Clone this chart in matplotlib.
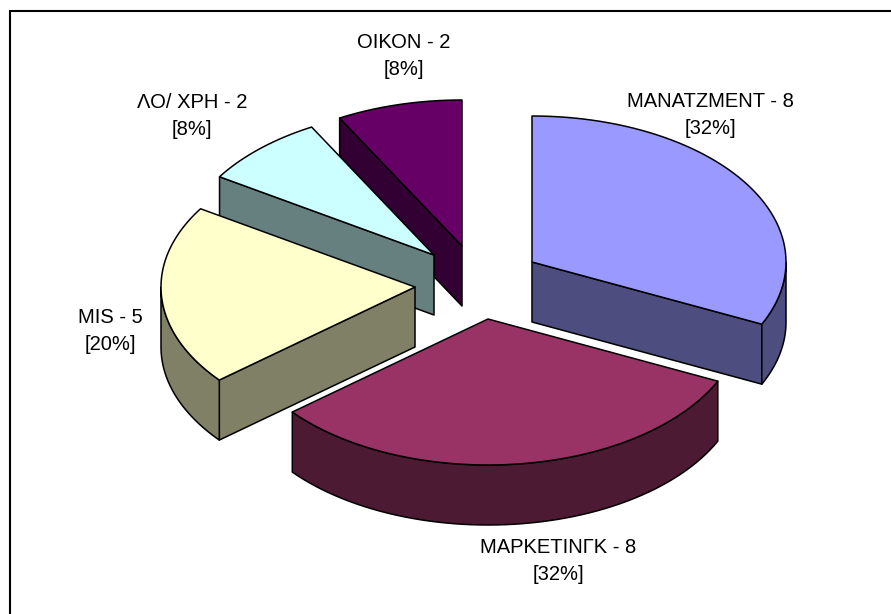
import numpy as np
import matplotlib
matplotlib.use("Agg")
import matplotlib.pyplot as plt
from matplotlib.patches import Polygon

plt.rcParams['font.family'] = ['Liberation Sans', 'DejaVu Sans']

names = ["ΜΑΝΑΤΖΜΕΝΤ", "ΜΑΡΚΕΤΙΝΓΚ", "MIS", "ΛΟ/ ΧΡΗ", "ΟΙΚΟΝ"]
values = [8, 8, 5, 2, 2]
top_colors = ["#9999FF", "#993366", "#FFFFCC", "#CCFFFF", "#660066"]
side_colors = ["#4D4D80", "#4D1A33", "#808066", "#668080", "#330033"]

# where each exploded slice has its tip, in pixels
tips = [(532, 262), (488, 319), (415, 287), (434, 255), (462, 246)]
label_pos = [(710, 115), (558, 561), (110, 331), (192, 116), (404, 56)]
draw_order = [4, 3, 0, 2, 1]

RX = 254
RY = 146
DEPTH = 60
LW = 1.1


def arc(cx, cy, a, b, n=60):
    t = np.radians(np.linspace(a, b, n))
    return np.column_stack((cx + RX*np.sin(t), cy - RY*np.cos(t)))


def wall(ax, pts, color):
    low = pts[::-1] + np.array([0, DEPTH])
    ax.add_patch(Polygon(np.vstack((pts, low)), closed=True, fc=color, ec="black", lw=LW, joinstyle="round"))


fig = plt.figure(figsize=(8.91, 6.14), dpi=100)
ax = fig.add_axes([0, 0, 1, 1])
ax.set_xlim(0, 891)
ax.set_ylim(614, 0)
ax.axis("off")

# chart area only shows its top and left edge
ax.plot([10, 10, 891], [614, 10.5, 10.5], color="black", lw=1.5, solid_joinstyle="miter")

total = sum(values)
ends = np.cumsum(values)/total*360
starts = np.concatenate(([0], ends[:-1]))

for i in draw_order:
    cx, cy = tips[i]
    a, b = starts[i], ends[i]
    first = arc(cx, cy, a, a, 1)[0]
    last = arc(cx, cy, b, b, 1)[0]
    # radial walls which face the viewer
    if 180 < a < 360:
        wall(ax, np.array([first, (cx, cy)]), side_colors[i])
    if 0 < b < 180:
        wall(ax, np.array([(cx, cy), last]), side_colors[i])
    # outer rim, front half only
    lo, hi = max(a, 90), min(b, 270)
    if lo < hi:
        wall(ax, arc(cx, cy, lo, hi), side_colors[i])
    top = np.vstack(([(cx, cy)], arc(cx, cy, a, b)))
    ax.add_patch(Polygon(top, closed=True, fc=top_colors[i], ec="black", lw=LW, joinstyle="round"))

for i in range(len(names)):
    x, y = label_pos[i]
    pct = round(values[i]/total*100)
    ax.text(x, y, f"{names[i]} - {values[i]}\n[{pct}%]", ha="center", va="center",
            fontsize=14.5, color="black", linespacing=1.5)

fig.savefig("out.png", dpi=100)
